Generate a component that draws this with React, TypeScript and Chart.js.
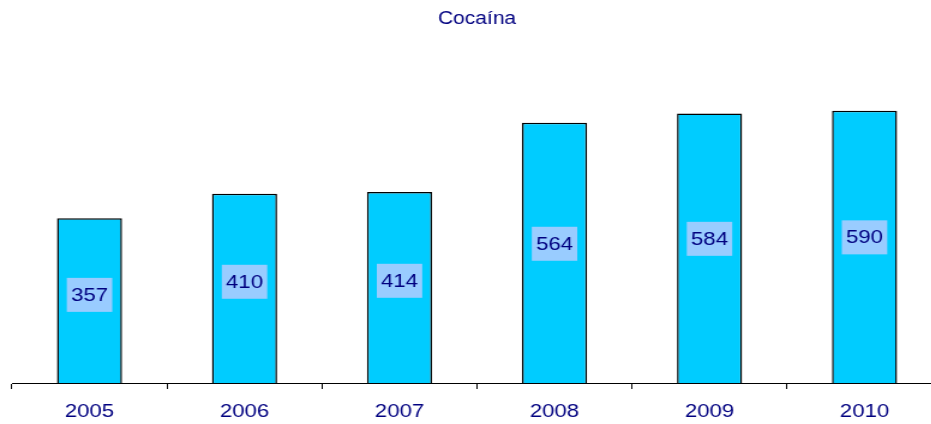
import { useEffect, useRef } from "react";
import { Chart, registerables } from "chart.js";

Chart.register(...registerables);

const TITLE = "Cocaína";
const years = ["2005", "2006", "2007", "2008", "2009", "2010"];
const values = [357, 410, 414, 564, 584, 590];
const Y_MIN = 0;
const Y_MAX = 700;

const FONT = '"Liberation Sans", Arial, Helvetica, sans-serif';
const S = 1.2; // horizontal stretch of the original picture
const W = 795;
const H = 424;

export default function App() {
  const ref = useRef<HTMLCanvasElement>(null);

  useEffect(() => {
    if (!ref.current) return;
    const labelPlugin = {
      id: "valueBoxes",
      afterDatasetsDraw(chart: any) {
        const ctx = chart.ctx;
        const meta = chart.getDatasetMeta(0);
        ctx.save();
        ctx.font = `18.5px ${FONT}`;
        ctx.textAlign = "center";
        ctx.textBaseline = "middle";
        meta.data.forEach((el: any, i: number) => {
          const { x, y, base } = el.getProps(["x", "y", "base"], true);
          const cy = base - (base - y) * 0.535;
          const text = String(values[i]);
          const tw = ctx.measureText(text).width;
          const bw = tw + 7;
          const bh = 34;
          ctx.fillStyle = "#99CCFF";
          ctx.fillRect(x - bw / 2, cy - bh / 2, bw, bh);
          ctx.fillStyle = "#000080";
          ctx.fillText(text, x, cy + 1);
        });
        ctx.restore();
      },
    };

    const chart = new Chart(ref.current, {
      type: "bar",
      data: {
        labels: years,
        datasets: [
          {
            data: values,
            backgroundColor: "#00CCFF",
            borderColor: "#000000",
            borderWidth: 1.5,
            barPercentage: 0.42,
            categoryPercentage: 1,
          },
        ],
      },
      options: {
        responsive: false,
        animation: false,
        devicePixelRatio: 1,
        layout: { padding: { left: 10, right: 10, top: 0, bottom: 0 } },
        plugins: {
          legend: { display: false },
          tooltip: { enabled: false },
          title: {
            display: true,
            text: TITLE,
            color: "#000080",
            font: { size: 17.5, weight: "normal", family: FONT },
            padding: { top: 9, bottom: 30 },
          },
        },
        scales: {
          x: {
            afterFit: (scale: any) => {
              scale.height = 41;
            },
            grid: {
              display: true,
              drawOnChartArea: false,
              drawTicks: true,
              tickLength: 6,
              color: "#000000",
              offset: true,
            },
            border: { display: true, color: "#000000", width: 1 },
            ticks: {
              color: "#000080",
              font: { size: 18.5, family: FONT },
              padding: 12,
            },
          },
          y: { display: false, min: Y_MIN, max: Y_MAX },
        },
      },
      plugins: [labelPlugin],
    });
    return () => chart.destroy();
  }, []);

  return (
    <div
      style={{
        position: "fixed",
        left: 0,
        top: 0,
        width: 931,
        height: 424,
        overflow: "hidden",
        background: "#ffffff",
      }}
    >
      <div style={{ width: W, height: H, transform: `scaleX(${S})`, transformOrigin: "0 0" }}>
        <canvas ref={ref} width={W} height={H} style={{ display: "block" }} />
      </div>
    </div>
  );
}
